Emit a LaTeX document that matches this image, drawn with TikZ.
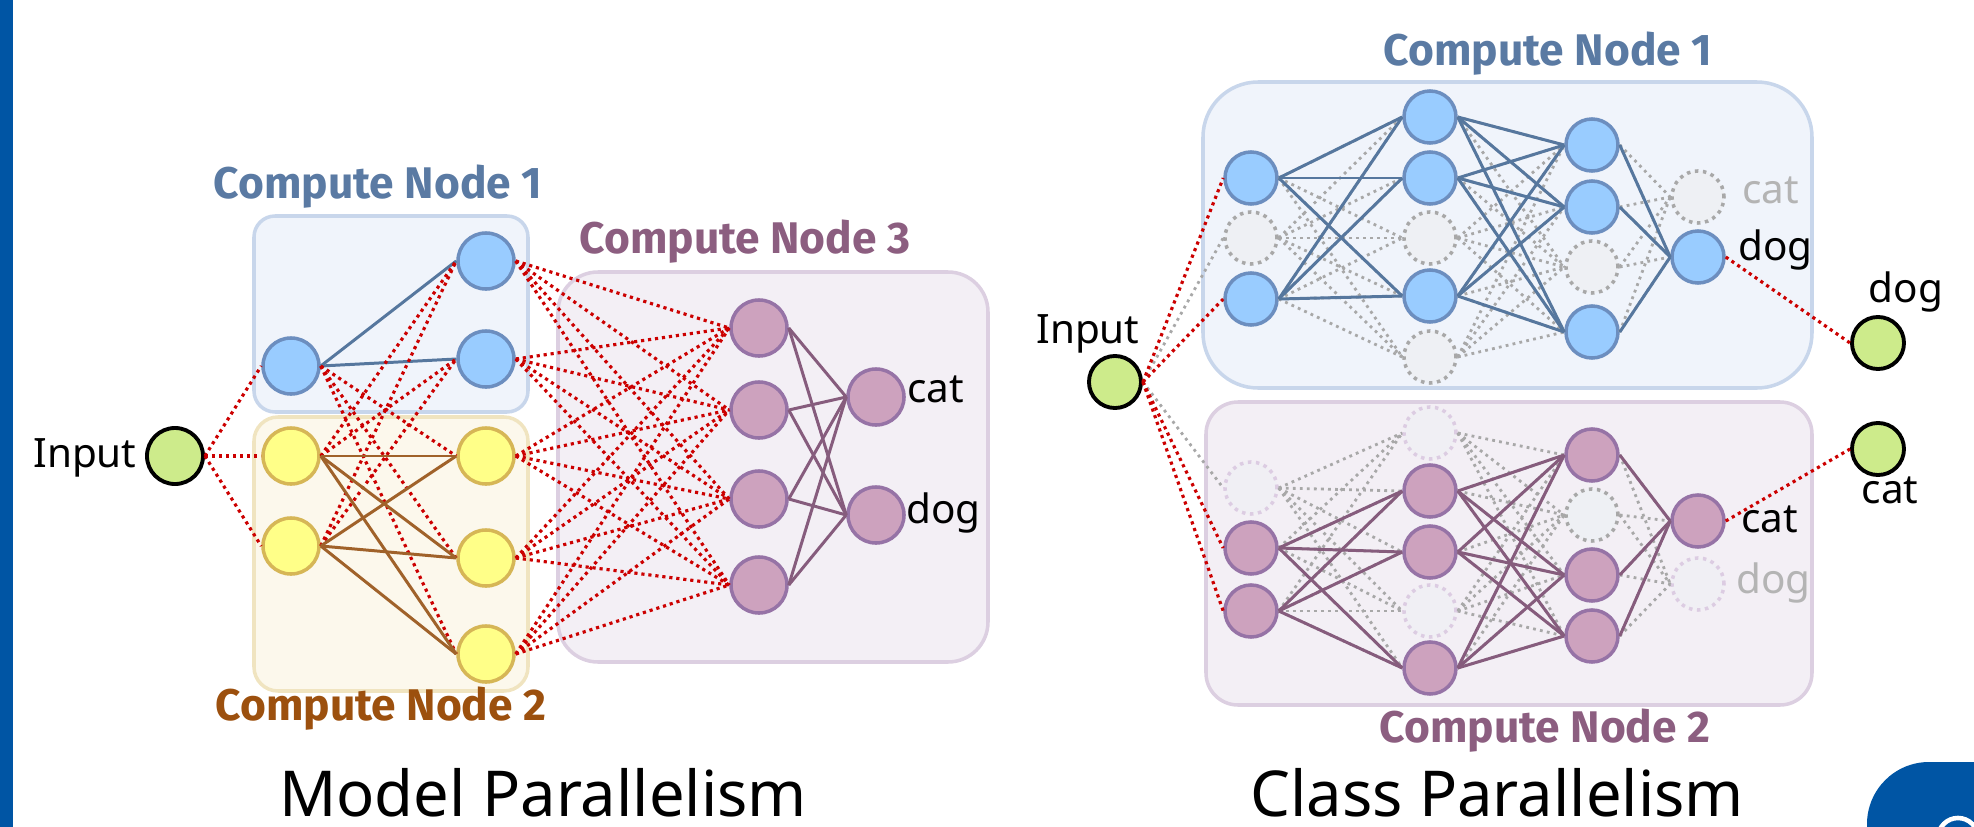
\documentclass[tikz,border=0pt]{standalone}
\usepackage{fontspec}
\setmainfont{Noto Sans}
\newfontfamily\titlefam{Fira Sans}
\usetikzlibrary{positioning}

\definecolor{ibmblue}{HTML}{0055A4}
\definecolor{ttlblue}{HTML}{5A7AA3}
\definecolor{ttlbrown}{HTML}{9C500E}
\definecolor{ttlmauve}{HTML}{8C5E80}
\definecolor{boxbluefill}{HTML}{F0F4FB}
\definecolor{boxblueline}{HTML}{C8D6EB}
\definecolor{boxyelfill}{HTML}{FCF8EC}
\definecolor{boxyelline}{HTML}{F0E4C0}
\definecolor{boxmaufill}{HTML}{F3EFF5}
\definecolor{boxmauline}{HTML}{DCCFE1}
\definecolor{neublue}{HTML}{99CCFF}
\definecolor{neubluedk}{HTML}{6C8EBF}
\definecolor{neuyel}{HTML}{FFFF88}
\definecolor{neuyeldk}{HTML}{D6B656}
\definecolor{neumau}{HTML}{CDA2BE}
\definecolor{neumaudk}{HTML}{9673A6}
\definecolor{wireblue}{HTML}{56779E}
\definecolor{wirebrown}{HTML}{A0622A}
\definecolor{wiremau}{HTML}{865C7D}
\definecolor{linkred}{HTML}{CC0000}
\definecolor{inputgreen}{HTML}{CDEB8B}
\definecolor{ghostfill}{HTML}{EEF0F4}
\definecolor{ghostline}{HTML}{A8A8A8}
\definecolor{ghostmau}{HTML}{DCCCE2}
\definecolor{dimgray}{HTML}{B4B4B4}

\begin{document}
\begin{tikzpicture}[
  x=0.01cm, y=-0.01cm,
  font=\fontsize{11.5pt}{14pt}\selectfont,
  neuron/.style={circle, minimum size=0.56cm, inner sep=0pt, line width=1pt},
  rsize/.style={minimum size=0.52cm},
  bneu/.style={neuron, fill=neublue, draw=neubluedk},
  yneu/.style={neuron, fill=neuyel, draw=neuyeldk},
  mneu/.style={neuron, fill=neumau, draw=neumaudk},
  ghost/.style={neuron, rsize, fill=ghostfill, draw=ghostline, dash pattern=on 1pt off 1.3pt},
  ghostm/.style={ghost, fill=boxmaufill!50!ghostfill, draw=ghostmau},
  inp/.style={neuron, fill=inputgreen, draw=black, line width=1.1pt},
  lbl/.style={inner sep=0.5pt},
  dimlbl/.style={lbl, text=dimgray},
  title/.style={font=\titlefam\fontsize{12.6pt}{14pt}\selectfont\bfseries, inner sep=0pt},
  caption/.style={font=\fontsize{18pt}{22pt}\selectfont, inner sep=0pt},
  boxb/.style={fill=boxbluefill, draw=boxblueline, line width=1pt},
  boxy/.style={fill=boxyelfill, draw=boxyelline, line width=1pt},
  boxm/.style={fill=boxmaufill, draw=boxmauline, line width=1pt},
  reddot/.style={draw=linkred, line width=0.9pt, dash pattern=on 0.9pt off 1.1pt},
  graydot/.style={draw=ghostline, line width=0.8pt, dash pattern=on 0.8pt off 1.2pt},
  wblue/.style={draw=wireblue, line width=0.85pt},
  wbrown/.style={draw=wirebrown, line width=0.85pt},
  wmau/.style={draw=wiremau, line width=0.85pt}
]
\useasboundingbox (0,0) rectangle (1974,827);

% slide decoration
\fill[ibmblue] (0,0) rectangle (13,827);
\fill[ibmblue, rounded corners=0.62cm] (1867,762) rectangle (2120,960);
\draw[white, line width=1.3pt] (1958,838) circle (0.2cm);

% model parallelism: compute nodes
\draw[boxb, rounded corners=0.21cm] (254,216) rectangle (528,412);
\draw[boxy, rounded corners=0.24cm] (254,417) rectangle (528,691);
\draw[boxm, rounded corners=0.4cm] (558,272) rectangle (988,662);
\node[title, text=ttlblue]  (t1) at (378,187) {Compute Node 1};
\node[title, text=ttlbrown] (t2) at (381,709) {Compute Node 2};
\node[title, text=ttlmauve] (t3) at (745,242) {Compute Node 3};

\node[inp] (in1) at (175,456) {};
\node[lbl, anchor=base east] (tin1) at (139,467) {Input};
\node[bneu] (b1) at (291,366) {};
\node[bneu] (b2) at (486,261) {};
\node[bneu] (b3) at (486,359) {};
\node[yneu] (y1) at (291,456) {};
\node[yneu] (y2) at (291,546) {};
\node[yneu] (y3) at (486,456) {};
\node[yneu] (y4) at (486,558) {};
\node[yneu] (y5) at (486,654) {};
\node[mneu] (m1) at (759,328) {};
\node[mneu] (m2) at (759,410) {};
\node[mneu] (m3) at (759,499) {};
\node[mneu] (m4) at (759,585) {};
\node[mneu] (o1) at (876,397) {};
\node[mneu] (o2) at (876,515) {};
\node[lbl, anchor=base west] (tcat1) at (905,402) {cat};
\node[lbl, anchor=base west] (tdog1) at (904,523) {dog};

\foreach \b in {b1,y1,y2} \draw[reddot] (in1.east) -- (\b.west);
\foreach \b in {b2,b3} \draw[wblue] (b1.east) -- (\b.west);
\foreach \b in {y3,y4,y5} \draw[reddot] (b1.east) -- (\b.west);
\foreach \a in {y1,y2} \foreach \b in {b2,b3} \draw[reddot] (\a.east) -- (\b.west);
\foreach \a in {y1,y2} \foreach \b in {y3,y4,y5} \draw[wbrown] (\a.east) -- (\b.west);
\foreach \a in {b2,b3,y3,y4,y5} \foreach \b in {m1,m2,m3,m4} \draw[reddot] (\a.east) -- (\b.west);
\foreach \a in {m1,m2,m3,m4} \foreach \b in {o1,o2} \draw[wmau] (\a.east) -- (\b.west);

\node[caption] (capm) at (543,793) {Model Parallelism};

% class parallelism: compute nodes
\draw[boxb, rounded corners=0.55cm] (1203,82) rectangle (1812,388);
\draw[boxm, rounded corners=0.32cm] (1206,402) rectangle (1812,705);
\node[title, text=ttlblue]  (t4) at (1548,54) {Compute Node 1};
\node[title, text=ttlmauve] (t5) at (1545,731) {Compute Node 2};

\node[inp, rsize] (in2) at (1115,382) {};
\node[lbl, anchor=base] (tin2) at (1088,343) {Input};

% compute node 1 (dog)
\node[bneu, rsize] (ra1) at (1251,178) {};
\node[ghost]       (ra2) at (1251,238) {};
\node[bneu, rsize] (ra3) at (1251,299) {};
\node[bneu, rsize] (rb1) at (1430,117) {};
\node[bneu, rsize] (rb2) at (1430,178) {};
\node[ghost]       (rb3) at (1430,238) {};
\node[bneu, rsize] (rb4) at (1430,296) {};
\node[ghost]       (rb5) at (1430,357) {};
\node[bneu, rsize] (rc1) at (1592,145) {};
\node[bneu, rsize] (rc2) at (1592,207) {};
\node[ghost]       (rc3) at (1592,267) {};
\node[bneu, rsize] (rc4) at (1592,332) {};
\node[ghost]       (rd1) at (1698,197) {};
\node[bneu, rsize] (rd2) at (1698,257) {};
\node[dimlbl, anchor=base west] (tcat2) at (1740,203) {cat};
\node[lbl, anchor=base west]    (tdog2) at (1736,260) {dog};

% compute node 2 (cat)
\node[ghostm]      (sa1) at (1251,488) {};
\node[mneu, rsize] (sa2) at (1251,548) {};
\node[mneu, rsize] (sa3) at (1251,611) {};
\node[ghostm]      (sb1) at (1430,433) {};
\node[mneu, rsize] (sb2) at (1430,491) {};
\node[mneu, rsize] (sb3) at (1430,552) {};
\node[ghostm]      (sb4) at (1430,611) {};
\node[mneu, rsize] (sb5) at (1430,668) {};
\node[mneu, rsize] (sc1) at (1592,455) {};
\node[ghost]       (sc2) at (1592,515) {};
\node[mneu, rsize] (sc3) at (1592,575) {};
\node[mneu, rsize] (sc4) at (1592,636) {};
\node[mneu, rsize] (sd1) at (1698,521) {};
\node[ghostm]      (sd2) at (1698,584) {};
\node[lbl, anchor=base west]    (tcat3) at (1739,532) {cat};
\node[dimlbl, anchor=base west] (tdog3) at (1734,593) {dog};

% outputs
\node[inp, rsize] (out1) at (1878,343) {};
\node[inp, rsize] (out2) at (1878,449) {};
\node[lbl, anchor=base] (tdog4) at (1906,302) {dog};
\node[lbl, anchor=base] (tcat4) at (1890,503) {cat};

% wiring: switched-off paths first, live paths on top
\foreach \b in {ra2,sa1} \draw[graydot] (in2.east) -- (\b.west);
\foreach \a in {ra1,ra2,ra3} \foreach \b in {rb1,rb2,rb3,rb4,rb5} \draw[graydot] (\a.east) -- (\b.west);
\foreach \a in {rb1,rb2,rb3,rb4,rb5} \foreach \b in {rc1,rc2,rc3,rc4} \draw[graydot] (\a.east) -- (\b.west);
\foreach \a in {rc1,rc2,rc3,rc4} \foreach \b in {rd1,rd2} \draw[graydot] (\a.east) -- (\b.west);
\foreach \a in {sa1,sa2,sa3} \foreach \b in {sb1,sb2,sb3,sb4,sb5} \draw[graydot] (\a.east) -- (\b.west);
\foreach \a in {sb1,sb2,sb3,sb4,sb5} \foreach \b in {sc1,sc2,sc3,sc4} \draw[graydot] (\a.east) -- (\b.west);
\foreach \a in {sc1,sc2,sc3,sc4} \foreach \b in {sd1,sd2} \draw[graydot] (\a.east) -- (\b.west);

\foreach \a in {ra1,ra3} \foreach \b in {rb1,rb2,rb4} \draw[wblue] (\a.east) -- (\b.west);
\foreach \a in {rb1,rb2,rb4} \foreach \b in {rc1,rc2,rc4} \draw[wblue] (\a.east) -- (\b.west);
\foreach \a in {rc1,rc2,rc4} \draw[wblue] (\a.east) -- (rd2.west);
\foreach \a in {sa2,sa3} \foreach \b in {sb2,sb3,sb5} \draw[wmau] (\a.east) -- (\b.west);
\foreach \a in {sb2,sb3,sb5} \foreach \b in {sc1,sc3,sc4} \draw[wmau] (\a.east) -- (\b.west);
\foreach \a in {sc1,sc3,sc4} \draw[wmau] (\a.east) -- (sd1.west);

\foreach \b in {ra1,ra3,sa2,sa3} \draw[reddot] (in2.east) -- (\b.west);
\draw[reddot] (rd2.east) -- (out1.west);
\draw[reddot] (sd1.east) -- (out2.west);

\node[caption] (capc) at (1497,793) {Class Parallelism};
\end{tikzpicture}
\end{document}
